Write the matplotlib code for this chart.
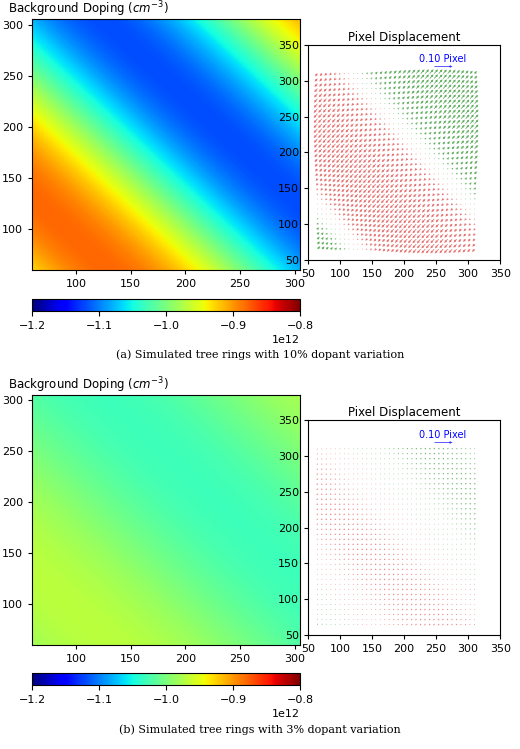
import numpy as np
import matplotlib
matplotlib.use("Agg")
import matplotlib.pyplot as plt

# data
amplitudes = [0.12e12, 0.03e12]
base = -1.0e12
captions = ["(a) Simulated tree rings with 10% dopant variation",
            "(b) Simulated tree rings with 3% dopant variation"]
ticks = [100, 150, 200, 250, 300]
qticks = [50, 100, 150, 200, 250, 300, 350]
cticks = [-1.2e12, -1.1e12, -1.0e12, -0.9e12, -0.8e12]

xs = np.linspace(60, 305, 200)
X, Y = np.meshgrid(xs, xs)
gx = np.arange(65, 312, 7)
GX, GY = np.meshgrid(gx, gx)
center, period = 430, 480

fig = plt.figure(figsize=(5.2, 7.49), dpi=100)
layouts = [(0.640, 0.585, 0.653, 0.522), (0.139, 0.085, 0.152, 0.022)]
for amp, cap, (hb, cb, qb, capy) in zip(amplitudes, captions, layouts):
    ax = fig.add_axes([0.062, hb, 0.515, 0.334])
    Z = base - amp * np.cos(2*np.pi*((X+Y) - center) / period)
    im = ax.imshow(Z, extent=[60, 305, 60, 305], origin='lower', cmap='jet',
                   vmin=-1.2e12, vmax=-0.8e12, aspect='auto')
    ax.set_xticks(ticks); ax.set_yticks(ticks)
    ax.tick_params(labelsize=8, length=3)
    ax.set_title("Background Doping ($cm^{-3}$)", fontsize=8.5, loc='left', pad=1, x=-0.09)
    cax = fig.add_axes([0.062, cb, 0.515, 0.016])
    cbar = fig.colorbar(im, cax=cax, orientation='horizontal', ticks=cticks)
    cbar.ax.tick_params(labelsize=8)
    cbar.ax.xaxis.get_offset_text().set_fontsize(8)

    qa = fig.add_axes([0.592, qb, 0.370, 0.287])
    phase = 2*np.pi*((GX+GY) - center) / period
    s = np.sin(phase).ravel()
    U = s * 6 * (amp/0.12e12)
    V = U
    colors = ['#e05050' if v < 0 else '#3a9a3a' for v in s]
    q = qa.quiver(GX.ravel(), GY.ravel(), U, V, color=colors, angles='xy', scale_units='xy',
                  scale=1, width=0.004, headwidth=3, headlength=3, alpha=0.8)
    qa.quiverkey(q, 0.7, 0.9, 28, "0.10 Pixel", labelpos='N', labelsep=0.02,
                 coordinates='axes', color='blue', labelcolor='blue',
                 fontproperties={'size': 7})
    qa.set_xlim(50, 350); qa.set_ylim(50, 350)
    qa.set_xticks(qticks); qa.set_yticks(qticks)
    qa.tick_params(labelsize=8, length=3)
    qa.set_title("Pixel Displacement", fontsize=8.5, pad=3)
    fig.text(0.5, capy, cap, ha='center', fontsize=8, family='DejaVu Serif')

fig.savefig("out.png", dpi=100)
